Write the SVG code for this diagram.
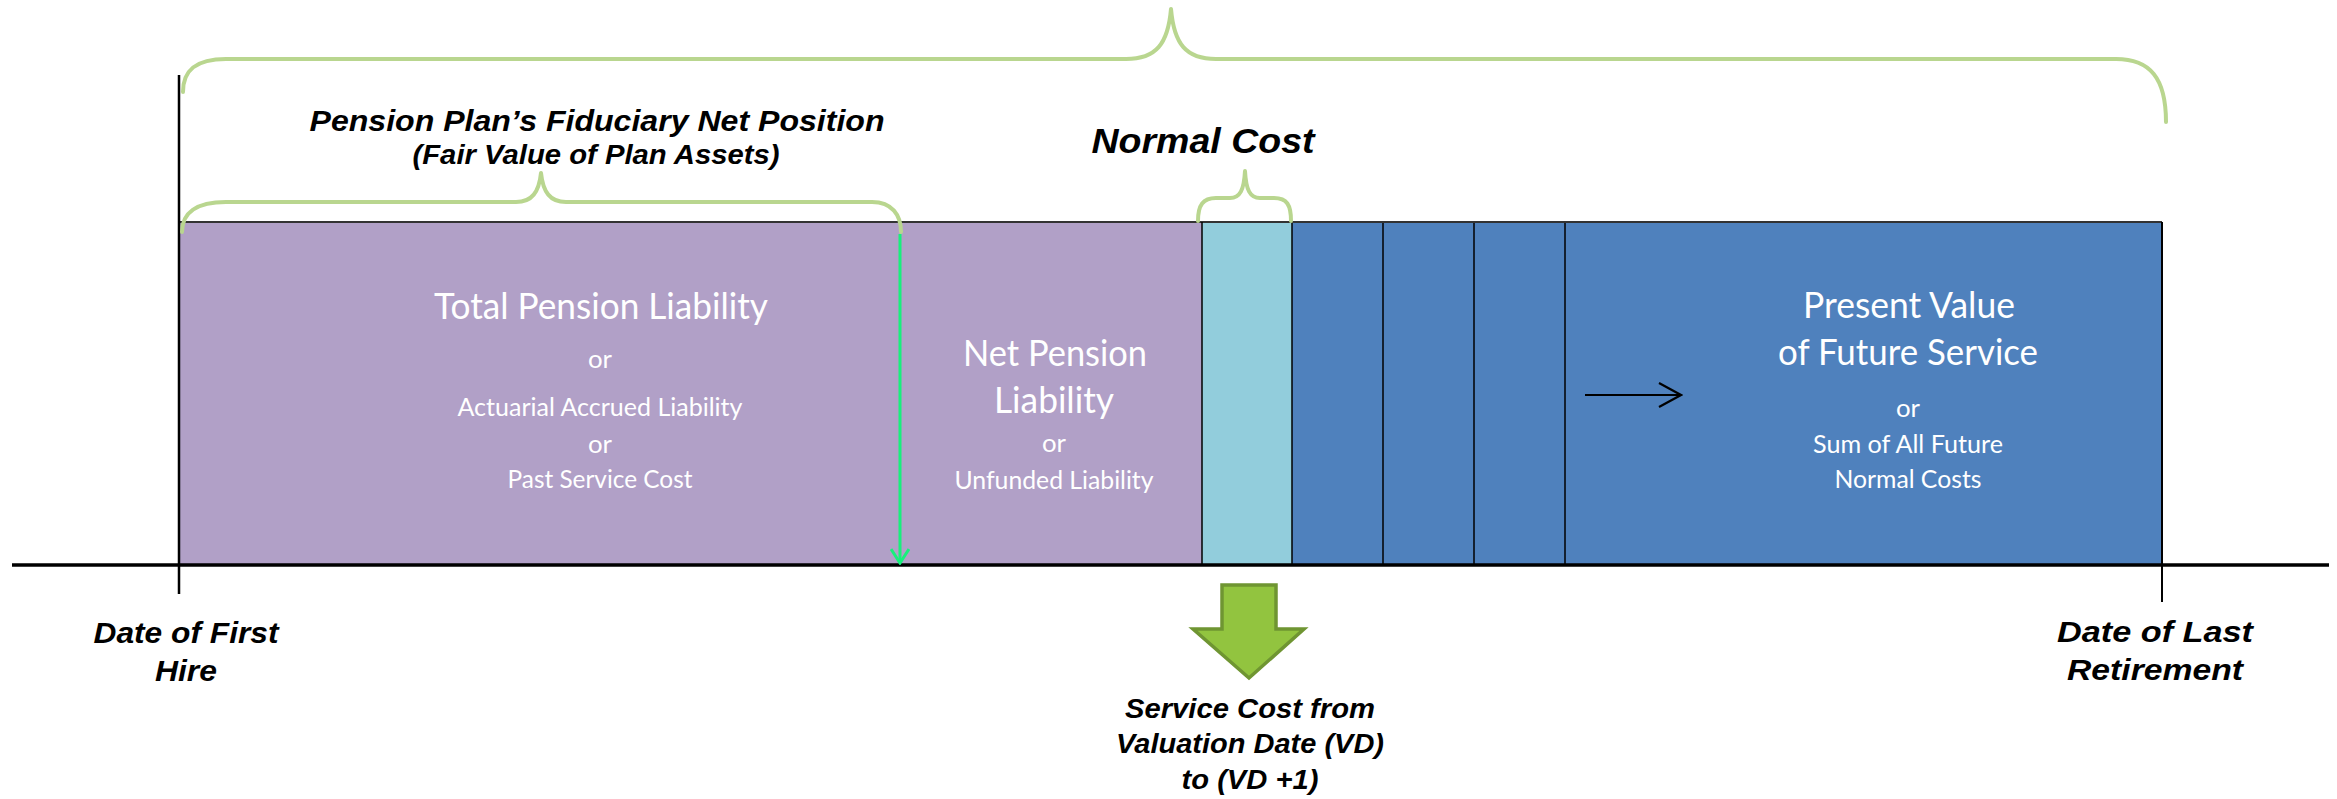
<svg xmlns="http://www.w3.org/2000/svg" width="2337" height="799" viewBox="0 0 2337 799">
  <style>
    .hdr { font-family: "Liberation Sans", Arial, sans-serif; font-weight: bold; font-style: italic; fill: #000; text-anchor: middle; }
    .in { font-family: Lato, "Liberation Sans", sans-serif; fill: #fff; text-anchor: middle; }
    .big { font-size: 36px; }
    .small { font-size: 25px; }
    .brace { fill: none; stroke: #b9d68f; stroke-width: 4; stroke-linecap: round; stroke-linejoin: round; }
    .divider { stroke: #000; stroke-width: 1.5; }
  </style>
  <defs>
    <marker id="openHeadGreen" viewBox="0 0 20 20" refX="18" refY="10" markerWidth="20" markerHeight="20" markerUnits="userSpaceOnUse" orient="auto">
      <path d="M4,1 L18,10 L4,19" fill="none" stroke="#17f07c" stroke-width="3"/>
    </marker>
    <marker id="openHeadBlack" viewBox="0 0 30 30" refX="28" refY="15" markerWidth="30" markerHeight="30" markerUnits="userSpaceOnUse" orient="auto">
      <path d="M6,3 L28,15 L6,27" fill="none" stroke="#000" stroke-width="2.2"/>
    </marker>
  </defs>

  <rect width="2337" height="799" fill="#fff"/>

  <!-- timeline segments -->
  <g id="total-pension-liability">
    <rect x="179" y="222" width="722" height="343" fill="#b1a0c7"/>
    <text class="in big" x="601" y="319" textLength="334" lengthAdjust="spacingAndGlyphs">Total Pension Liability</text>
    <text class="in small" x="600" y="368" textLength="24" lengthAdjust="spacingAndGlyphs">or</text>
    <text class="in small" x="600" y="416" textLength="285" lengthAdjust="spacingAndGlyphs">Actuarial Accrued Liability</text>
    <text class="in small" x="600" y="453" textLength="24" lengthAdjust="spacingAndGlyphs">or</text>
    <text class="in small" x="600" y="488" textLength="185" lengthAdjust="spacingAndGlyphs">Past Service Cost</text>
  </g>

  <g id="net-pension-liability">
    <rect x="901" y="222" width="301" height="343" fill="#b1a0c7"/>
    <text class="in big" x="1055" y="366" textLength="184" lengthAdjust="spacingAndGlyphs">Net Pension</text>
    <text class="in big" x="1054" y="413" textLength="120" lengthAdjust="spacingAndGlyphs">Liability</text>
    <text class="in small" x="1054" y="452" textLength="24" lengthAdjust="spacingAndGlyphs">or</text>
    <text class="in small" x="1054" y="489" textLength="199" lengthAdjust="spacingAndGlyphs">Unfunded Liability</text>
  </g>

  <g id="normal-cost-year">
    <rect x="1202" y="222" width="90" height="343" fill="#92cddc"/>
  </g>

  <g id="future-service">
    <rect x="1292" y="222" width="870" height="343" fill="#4f81bd"/>
    <line class="divider" x1="1292" y1="222" x2="1292" y2="565"/>
    <line class="divider" x1="1383" y1="222" x2="1383" y2="565"/>
    <line class="divider" x1="1474" y1="222" x2="1474" y2="565"/>
    <line class="divider" x1="1565" y1="222" x2="1565" y2="565"/>
    <text class="in big" x="1909" y="318" textLength="212" lengthAdjust="spacingAndGlyphs">Present Value</text>
    <text class="in big" x="1908" y="365" textLength="260" lengthAdjust="spacingAndGlyphs">of Future Service</text>
    <text class="in small" x="1908" y="417" textLength="24" lengthAdjust="spacingAndGlyphs">or</text>
    <text class="in small" x="1908" y="453" textLength="190" lengthAdjust="spacingAndGlyphs">Sum of All Future</text>
    <text class="in small" x="1908" y="488" textLength="147" lengthAdjust="spacingAndGlyphs">Normal Costs</text>
  </g>

  <!-- segment outlines, axis and end ticks -->
  <g id="axis">
    <line x1="179" y1="222" x2="2162" y2="222" stroke="#333" stroke-width="2"/>
    <line class="divider" x1="1202" y1="222" x2="1202" y2="565"/>
    <line x1="179" y1="75" x2="179" y2="594" stroke="#000" stroke-width="2.5"/>
    <line x1="2162" y1="222" x2="2162" y2="602" stroke="#000" stroke-width="2"/>
    <line x1="12" y1="565" x2="2329" y2="565" stroke="#000" stroke-width="3.5"/>
  </g>

  <!-- braces -->
  <g id="brace-total">
    <path class="brace" d="M183,92 C183,70 196,59 226,59 L1126,59 C1156,59 1168,44 1171,9 C1174,44 1186,59 1216,59 L2116,59 C2150,59 2166,78 2166,122"/>
  </g>
  <g id="brace-fiduciary">
    <path class="brace" d="M182,232 C182,213 196,202 226,202 L516,202 C532,202 539,192 541,173 C543,192 550,202 566,202 L872,202 C892,202 901,215 901,232"/>
  </g>
  <g id="brace-normal-cost">
    <path class="brace" d="M1198,221 C1198,205 1203,198 1216,198 L1230,198 C1240,198 1244,190 1245,171 C1246,190 1250,198 1260,198 L1274,198 C1287,198 1291,205 1291,221"/>
  </g>

  <!-- labels -->
  <g id="label-fiduciary">
    <text class="hdr" x="597" y="131" font-size="30" textLength="575" lengthAdjust="spacingAndGlyphs">Pension Plan’s Fiduciary Net Position</text>
    <text class="hdr" x="596" y="164" font-size="27" textLength="367" lengthAdjust="spacingAndGlyphs">(Fair Value of Plan Assets)</text>
  </g>
  <g id="label-normal-cost">
    <text class="hdr" x="1203" y="153" font-size="35" textLength="223" lengthAdjust="spacingAndGlyphs">Normal Cost</text>
  </g>
  <g id="label-first-hire">
    <text class="hdr" x="186" y="643" font-size="30" textLength="185" lengthAdjust="spacingAndGlyphs">Date of First</text>
    <text class="hdr" x="186" y="681" font-size="30" textLength="62" lengthAdjust="spacingAndGlyphs">Hire</text>
  </g>
  <g id="label-last-retirement">
    <text class="hdr" x="2155" y="642" font-size="30" textLength="196" lengthAdjust="spacingAndGlyphs">Date of Last</text>
    <text class="hdr" x="2155" y="680" font-size="30" textLength="176" lengthAdjust="spacingAndGlyphs">Retirement</text>
  </g>
  <g id="label-service-cost">
    <text class="hdr" x="1250" y="718" font-size="28" textLength="250" lengthAdjust="spacingAndGlyphs">Service Cost from</text>
    <text class="hdr" x="1250" y="753" font-size="28" textLength="268" lengthAdjust="spacingAndGlyphs">Valuation Date (VD)</text>
    <text class="hdr" x="1250" y="789" font-size="28" textLength="137" lengthAdjust="spacingAndGlyphs">to (VD +1)</text>
  </g>

  <!-- connectors -->
  <g id="connectors">
    <line x1="900" y1="234" x2="900" y2="563" stroke="#17f07c" stroke-width="3" marker-end="url(#openHeadGreen)"/>
    <line x1="1585" y1="395" x2="1681" y2="395" stroke="#000" stroke-width="2.2" marker-end="url(#openHeadBlack)"/>
    <path d="M1222,585 L1276,585 L1276,629 L1304,629 L1249,678 L1193,629 L1222,629 Z" fill="#92c43f" stroke="#6f9532" stroke-width="3.5" stroke-linejoin="miter"/>
  </g>
</svg>
